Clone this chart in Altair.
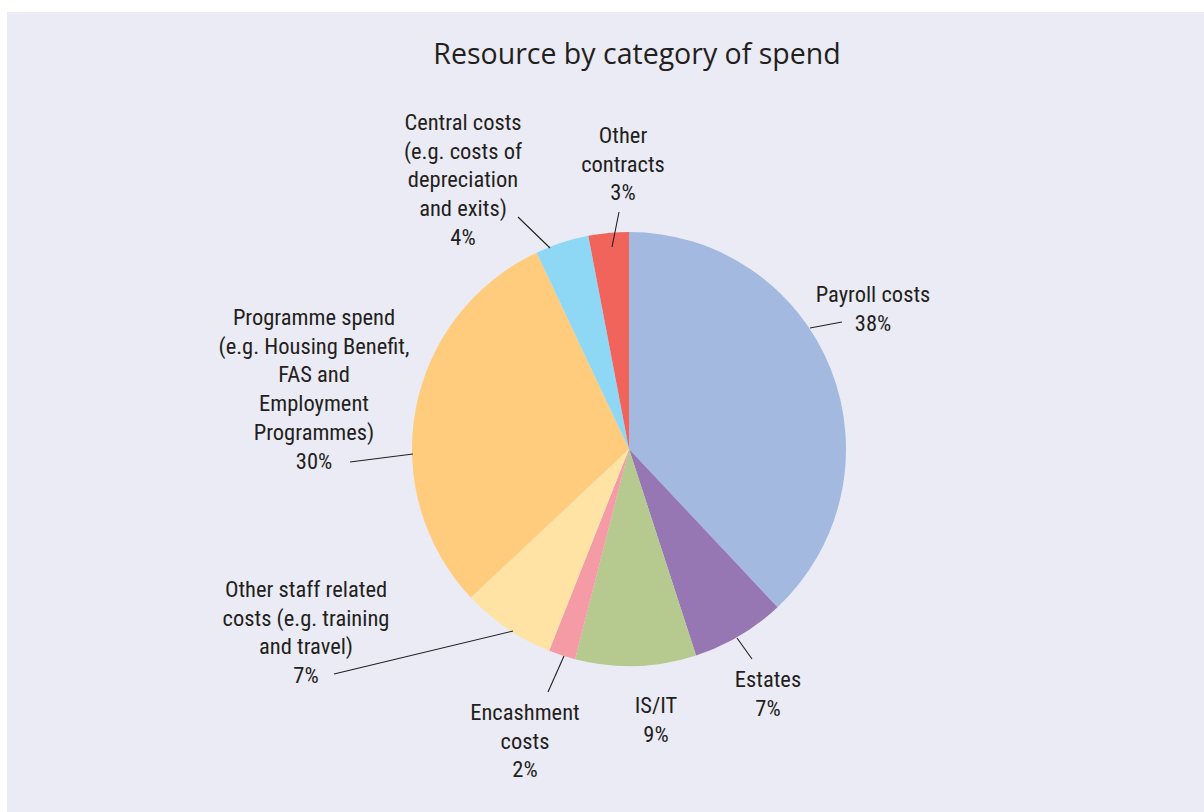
import altair as alt
import pandas as pd

# ---- data ----
categories = [
    "Payroll costs", "Estates", "IS/IT", "Encashment costs",
    "Other staff related costs", "Programme spend", "Central costs", "Other contracts",
]
values = [38, 7, 9, 2, 7, 30, 4, 3]
label_text = [
    "Payroll costs\n38%",
    "Estates\n7%",
    "IS/IT\n9%",
    "Encashment\ncosts\n2%",
    "Other staff related\ncosts (e.g. training\nand travel)\n7%",
    "Programme spend\n(e.g. Housing Benefit,\nFAS and\nEmployment\nProgrammes)\n30%",
    "Central costs\n(e.g. costs of\ndepreciation\nand exits)\n4%",
    "Other\ncontracts\n3%",
]
colors = ["#A3B9DF", "#9677B4", "#B6C98E", "#F49BA6", "#FEE3A4", "#FECC7C", "#8ED8F6", "#F0645C"]

# ---- layout (annotation placement, pixels) ----
label_x = [873, 768, 656, 525, 306, 314, 463, 623]
label_y = [302, 687, 713, 720, 597, 325, 130, 143]
lead_x1 = [810, 737, None, 548, 334, 350, 518, 619]
lead_y1 = [328, 638, None, 692, 674, 462, 217, 212]
lead_x2 = [842, 752, None, 564, 513, 413, 550, 612]
lead_y2 = [322, 659, None, 656, 631, 454, 248, 247]

CX, CY, R = 629, 449, 217
TEXT = "#231F20"
LABEL_FONT = "Liberation Sans Narrow, Roboto Condensed, Liberation Sans"

df = pd.DataFrame({
    "category": categories,
    "value": values,
    "order": list(range(len(categories))),
    "label": label_text,
    "lx": label_x,
    "ly": label_y,
})
lead = pd.DataFrame({"x1": lead_x1, "y1": lead_y1, "x2": lead_x2, "y2": lead_y2}).dropna()

bg = alt.Chart(pd.DataFrame({"a": [0]})).mark_rect(fill="#EBEBF5").encode(
    x=alt.value(7), x2=alt.value(1204), y=alt.value(12), y2=alt.value(812)
)

pie = alt.Chart(df).mark_arc(radius=R, strokeWidth=0).encode(
    theta=alt.Theta("value:Q", stack=True),
    color=alt.Color("category:N", scale=alt.Scale(domain=categories, range=colors), legend=None),
    order=alt.Order("order:Q"),
    x=alt.value(CX),
    y=alt.value(CY),
)

leaders = alt.Chart(lead).mark_rule(color=TEXT, strokeWidth=1.1).encode(
    x=alt.X("x1:Q", scale=None), y=alt.Y("y1:Q", scale=None),
    x2="x2:Q", y2="y2:Q",
)

labels = alt.Chart(df).mark_text(
    lineBreak="\n", font=LABEL_FONT, fontSize=22.5, lineHeight=28.7,
    color=TEXT, align="center", baseline="alphabetic",
).encode(
    x=alt.X("lx:Q", scale=None), y=alt.Y("ly:Q", scale=None), text="label:N",
)

title = alt.Chart(pd.DataFrame({"t": ["Resource by category of spend"]})).mark_text(
    font="Open Sans", fontSize=28.5, color=TEXT, align="center", baseline="alphabetic",
).encode(x=alt.value(637), y=alt.value(64), text="t:N")

chart = alt.layer(bg, pie, leaders, labels, title).properties(
    width=1204, height=812, padding=0, autosize=alt.AutoSizeParams(type="none"),
    background="#FFFFFF",
).configure_view(stroke=None)

chart.save("out.html", embed_options={"renderer": "svg", "actions": False})
